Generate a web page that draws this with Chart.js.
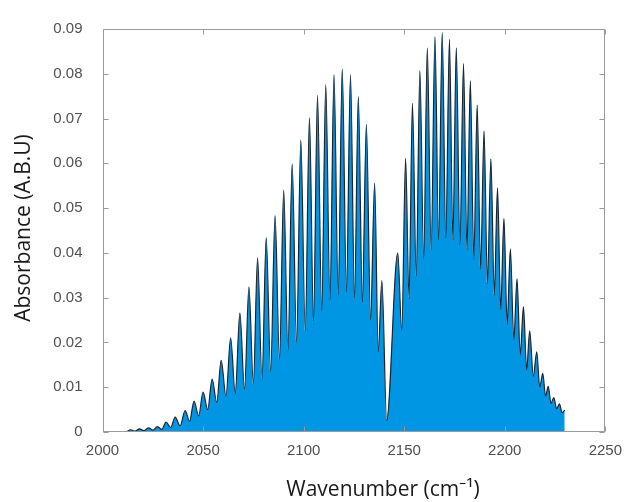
<!DOCTYPE html>
<html><head><meta charset="utf-8">
<script src="https://cdn.jsdelivr.net/npm/chart.js@4.4.1/dist/chart.umd.min.js"></script>
<style>html,body{margin:0;padding:0;background:#fff;}#wrap{width:632px;height:502px;}</style>
</head><body><div id="wrap"><canvas id="c" width="632" height="502"></canvas></div>
<script>
// P branch (peaks and valleys, alternating)
const pBranchWavenumber = [2009.6,2012.0,2014.0,2016.2,2018.4,2020.6,2022.9,2025.1,2027.3,2029.5,2031.6,2033.9,2036.1,2038.6,2041.1,2043.3,2045.5,2047.8,2050.0,2052.3,2054.5,2056.8,2059.0,2061.4,2063.7,2066.0,2068.3,2070.6,2072.8,2075.0,2077.1,2079.3,2081.4,2083.6,2085.8,2088.0,2090.1,2092.2,2094.3,2096.5,2098.6,2100.8,2102.9,2104.9,2106.9,2109.0,2111.0,2113.1,2115.1,2117.2,2119.2,2121.3,2123.3,2125.3,2127.2,2129.2,2131.2,2133.3,2135.3,2137.1,2138.9];
const pBranchAbsorbance = [0,0.0001,0.0005,0.0002,0.0007,0.0003,0.0009,0.0004,0.0012,0.0006,0.0022,0.0010,0.0033,0.0014,0.0048,0.0024,0.0069,0.0036,0.0089,0.0050,0.0118,0.0066,0.0160,0.0080,0.0210,0.0086,0.0266,0.0095,0.0324,0.0108,0.0389,0.0118,0.0434,0.0136,0.0483,0.0161,0.0540,0.0182,0.0599,0.0200,0.0652,0.0226,0.0702,0.0248,0.0752,0.0270,0.0776,0.0295,0.0798,0.0306,0.0811,0.0313,0.0798,0.0300,0.0749,0.0290,0.0687,0.0250,0.0556,0.0180,0.0338];
// band-centre gap
const qGapWavenumber = [2141.3];
const qGapAbsorbance = [0.0026];
// R branch (peaks and valleys, alternating)
const rBranchWavenumber = [2146.8,2148.8,2150.7,2152.4,2154.1,2156.0,2157.8,2159.7,2161.5,2163.4,2165.3,2167.1,2168.9,2170.7,2172.5,2174.2,2175.9,2177.7,2179.5,2181.2,2182.9,2184.6,2186.3,2188.0,2189.7,2191.4,2193.1,2194.8,2196.4,2198.0,2199.6,2201.2,2202.8,2204.5,2206.1,2207.7,2209.3,2210.9,2212.4,2214.2,2215.9,2217.4,2218.9,2220.3,2221.6,2223.0,2224.4,2225.8,2227.2,2228.5,2229.8];
const rBranchAbsorbance = [0.0400,0.0226,0.0611,0.0299,0.0734,0.0349,0.0807,0.0386,0.0858,0.0407,0.0883,0.0429,0.0892,0.0433,0.0877,0.0429,0.0858,0.0418,0.0823,0.0407,0.0784,0.0386,0.0730,0.0364,0.0672,0.0331,0.0610,0.0306,0.0545,0.0274,0.0477,0.0241,0.0409,0.0205,0.0342,0.0172,0.0280,0.0139,0.0226,0.0125,0.0179,0.0100,0.0131,0.0080,0.0102,0.0064,0.0077,0.0052,0.0063,0.0043,0.0049];

const xTickValues = [2000,2050,2100,2150,2200,2250];
const xTickLabels = ['2000','2050','2100','2150','2200','2250'];
const yTickValues = [0,0.01,0.02,0.03,0.04,0.05,0.06,0.07,0.08,0.09];
const yTickLabels = ['0','0.01','0.02','0.03','0.04','0.05','0.06','0.07','0.08','0.09'];
const xAxisTitle = 'Wavenumber (cm\u207B\u00B9)';
const yAxisTitle = 'Absorbance (A.B.U)';

const toPts = (xs, ys) => xs.map((x, i) => ({x: x, y: ys[i]}));
const spectrum = [].concat(
  toPts(pBranchWavenumber, pBranchAbsorbance),
  toPts(qGapWavenumber, qGapAbsorbance),
  toPts(rBranchWavenumber, rBranchAbsorbance)
);

const framePlugin = {
  id: 'frame',
  afterDatasetsDraw(chart) {
    const ctx = chart.ctx, a = chart.chartArea, xs = chart.scales.x, ys = chart.scales.y;
    ctx.save();
    ctx.strokeStyle = '#9a9a9a';
    ctx.lineWidth = 1;
    const L = Math.round(a.left) + 0.5, R = Math.round(a.right) - 0.5;
    const T = Math.round(a.top) + 0.5, B = Math.round(a.bottom) - 0.5;
    ctx.strokeRect(L, T, R - L, B - T);
    ctx.beginPath();
    const tl = 5;
    xTickValues.forEach(v => {
      const px = Math.round(xs.getPixelForValue(v)) + 0.5;
      ctx.moveTo(px, B); ctx.lineTo(px, B - tl);
      ctx.moveTo(px, T); ctx.lineTo(px, T + tl);
    });
    yTickValues.forEach(v => {
      const py = Math.round(ys.getPixelForValue(v)) + 0.5;
      ctx.moveTo(L, py); ctx.lineTo(L + tl, py);
      ctx.moveTo(R, py); ctx.lineTo(R - tl, py);
    });
    ctx.stroke();
    // axis titles
    ctx.fillStyle = '#1a1a1a';
    ctx.font = '21px "Open Sans"';
    ctx.textAlign = 'center';
    ctx.textBaseline = 'alphabetic';
    ctx.fillText(xAxisTitle, 383, 496);
    ctx.translate(30, 228);
    ctx.rotate(-Math.PI / 2);
    ctx.fillText(yAxisTitle, 0, 0);
    ctx.restore();
  }
};

new Chart(document.getElementById('c'), {
  type: 'line',
  data: {
    datasets: [{
      data: spectrum,
      borderColor: '#1b2632',
      borderWidth: 1.2,
      backgroundColor: '#0096e4',
      fill: 'origin',
      pointRadius: 0,
      cubicInterpolationMode: 'monotone'
    }]
  },
  options: {
    responsive: false,
    animation: false,
    devicePixelRatio: 1,
    layout: {padding: {left: 0, right: 21, top: 19, bottom: 0}},
    plugins: {legend: {display: false}, tooltip: {enabled: false}},
    scales: {
      x: {
        type: 'linear', min: 2000, max: 2250,
        afterBuildTicks: s => { s.ticks = xTickValues.map(v => ({value: v})); },
        afterFit: s => { s.height = 70; },
        grid: {display: false, drawTicks: false},
        border: {display: false},
        ticks: {
          autoSkip: false, maxRotation: 0, padding: 10, color: '#505050',
          font: {family: 'Liberation Sans', size: 15},
          callback: (v, i) => xTickLabels[i]
        }
      },
      y: {
        type: 'linear', min: 0, max: 0.09,
        afterBuildTicks: s => { s.ticks = yTickValues.map(v => ({value: v})); },
        afterFit: s => { s.width = 102.5; },
        grid: {display: false, drawTicks: false},
        border: {display: false},
        ticks: {
          autoSkip: false, padding: 20, color: '#505050',
          font: {family: 'Liberation Sans', size: 15},
          callback: (v, i) => yTickLabels[i]
        }
      }
    }
  },
  plugins: [framePlugin]
});
</script></body></html>
